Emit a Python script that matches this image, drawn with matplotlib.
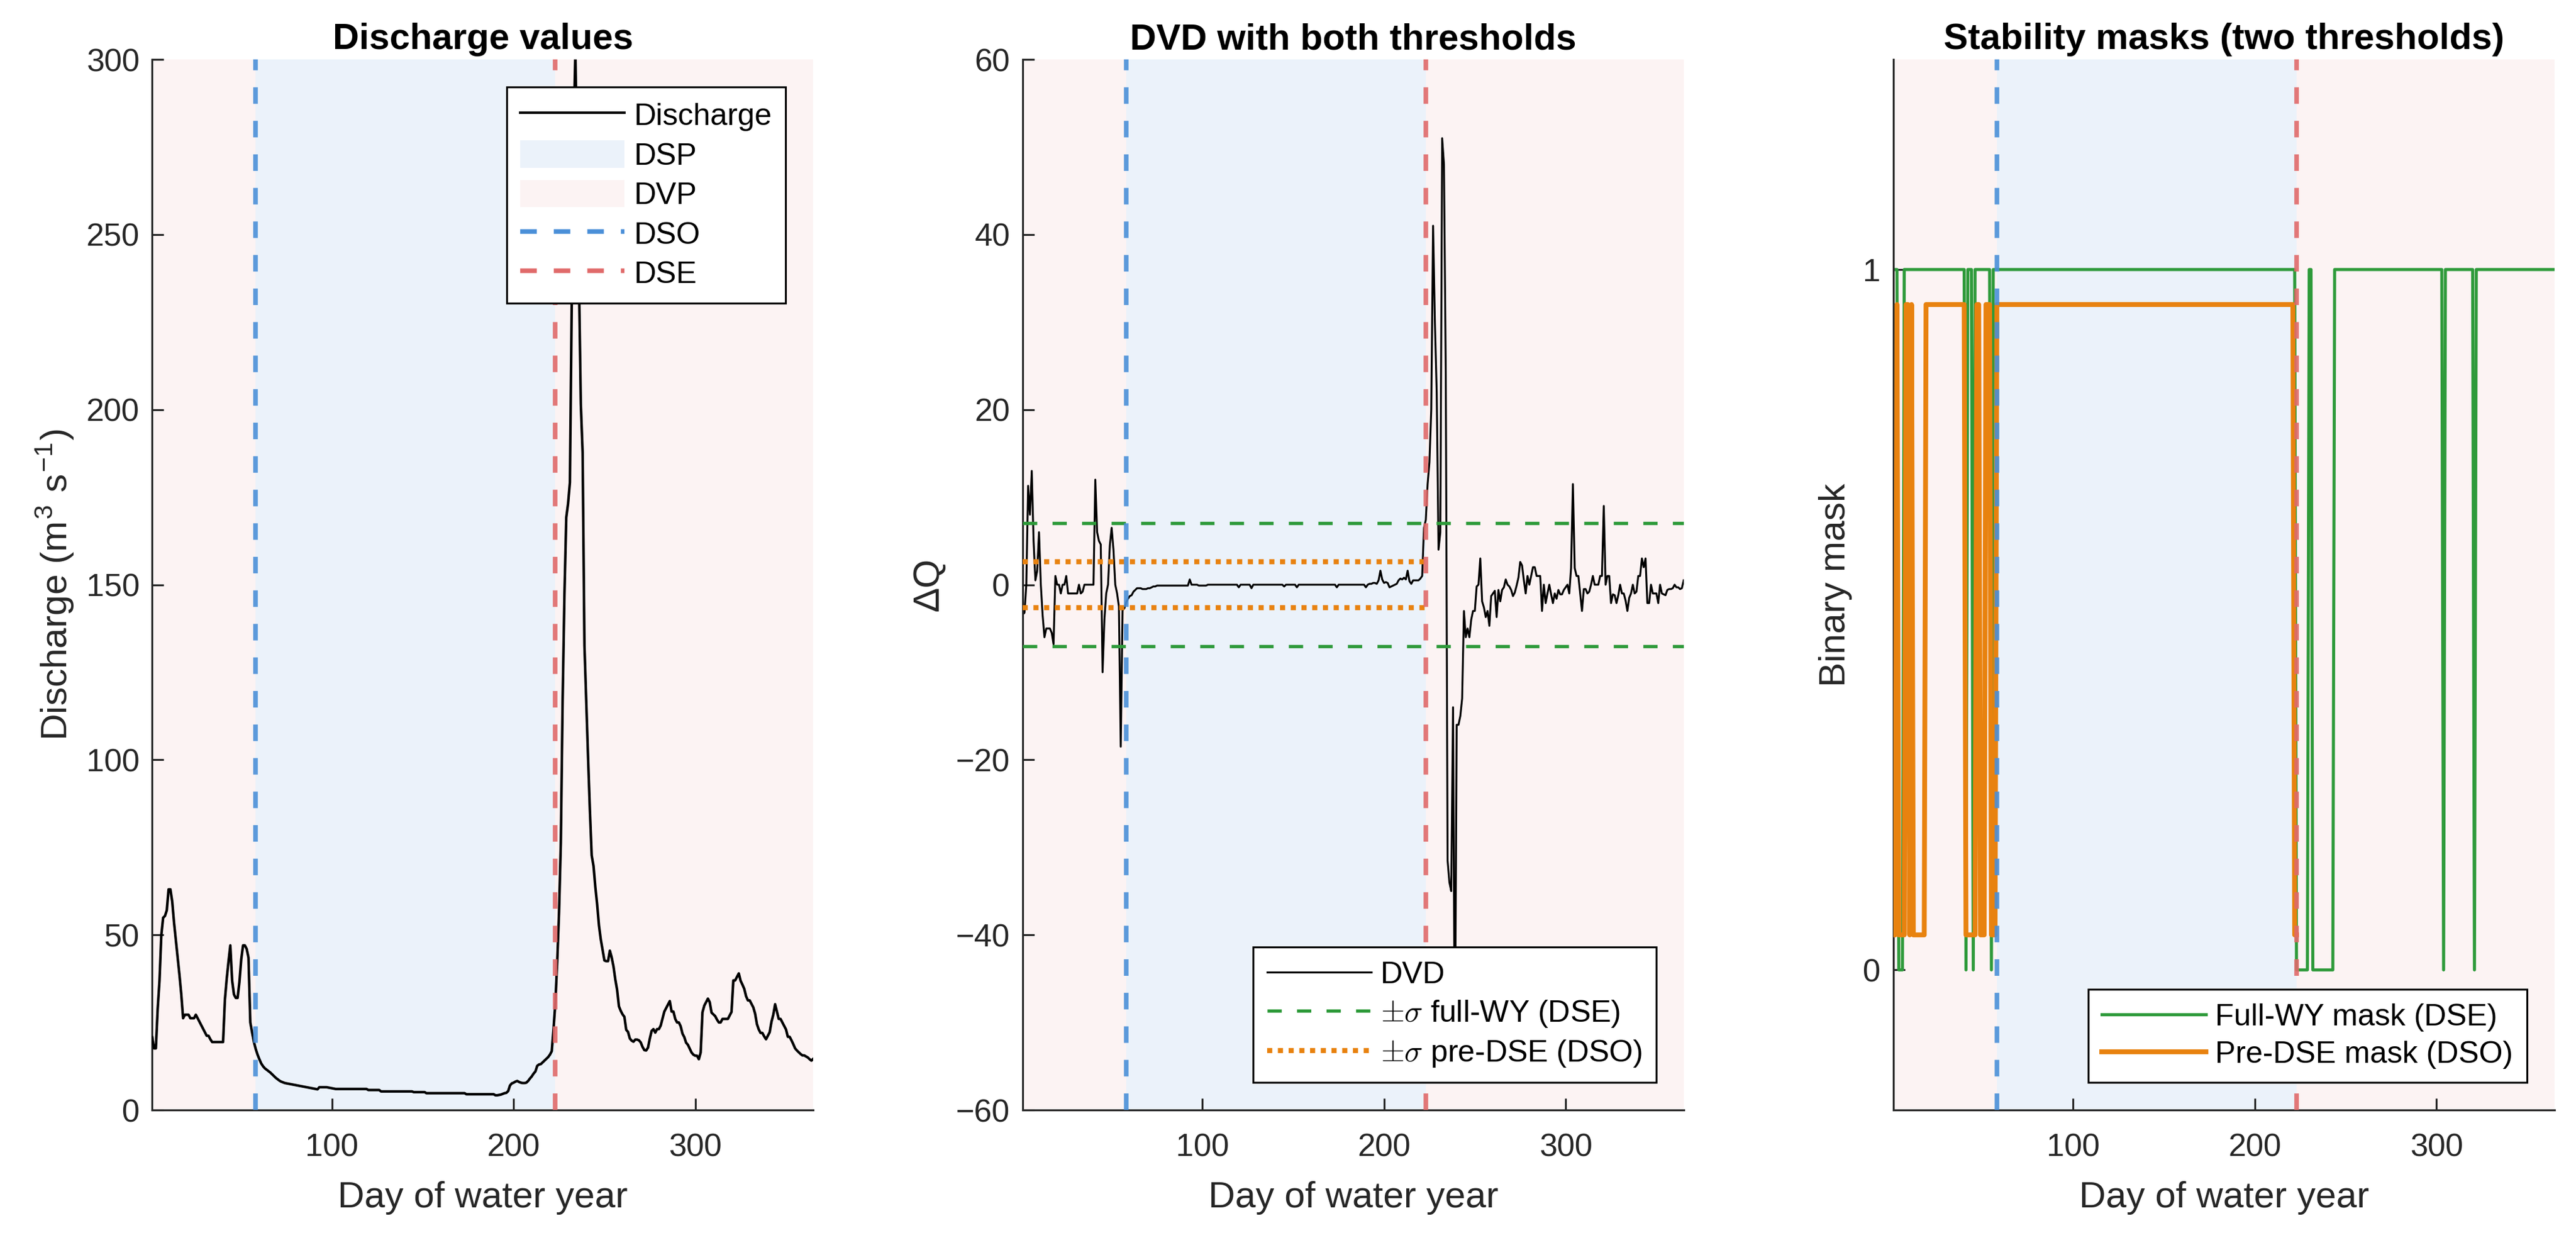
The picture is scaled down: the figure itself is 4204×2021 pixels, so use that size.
import numpy as np
import matplotlib.pyplot as plt
from matplotlib.patches import Patch
from matplotlib.lines import Line2D

plt.rcParams['font.family'] = ['Liberation Sans', 'DejaVu Sans']
plt.rcParams['mathtext.fontset'] = 'cm'

# --- data: daily discharge over the water year (m3 s-1), day 1..365 ---
Q_PREV = 24.2  # last day of the previous water year
discharge = np.array([
    20.8, 17.6, 17.6, 28.9, 36.9, 49.9, 54.9, 55.4, 57.0, 63.0,      # 1-10
    63.0, 59.5, 53.5, 48.5, 43.5, 38.5, 33.0, 26.2, 27.2, 27.2,      # 11-20
    27.2, 26.2, 26.2, 26.2, 27.2, 26.2, 25.2, 24.2, 23.2, 22.2,      # 21-30
    21.2, 21.2, 20.2, 19.4, 19.4, 19.4, 19.4, 19.4, 19.4, 19.4,      # 31-40
    31.4, 37.4, 42.4, 47.0, 37.0, 33.0, 32.0, 32.0, 36.5, 43.0,      # 41-50
    47.0, 47.0, 46.0, 43.5, 25.0, 22.1, 19.4, 17.4, 15.8, 14.5,      # 51-60
    13.3, 12.5, 11.9, 11.5, 11.1, 10.7, 10.2, 9.7, 9.2, 8.8,         # 61-70
    8.4, 8.1, 7.9, 7.7, 7.6, 7.5, 7.4, 7.3, 7.2, 7.1,                # 71-80
    7.0, 6.9, 6.8, 6.7, 6.6, 6.5, 6.4, 6.3, 6.2, 6.1,                # 81-90
    6.0, 5.9, 6.5, 6.5, 6.5, 6.5, 6.5, 6.4, 6.3, 6.2,                # 91-100
    6.1, 6.0, 6.0, 6.0, 6.0, 6.0, 6.0, 6.0, 6.0, 6.0,                # 101-110
    6.0, 6.0, 6.0, 6.0, 6.0, 6.0, 6.0, 6.0, 6.0, 5.7,                # 111-120
    5.7, 5.7, 5.7, 5.7, 5.7, 5.7, 5.3, 5.3, 5.3, 5.3,                # 121-130
    5.3, 5.3, 5.3, 5.3, 5.3, 5.3, 5.3, 5.3, 5.3, 5.3,                # 131-140
    5.3, 5.3, 5.3, 5.3, 5.1, 5.1, 5.1, 5.1, 5.1, 5.1,                # 141-150
    5.1, 4.8, 4.8, 4.8, 4.8, 4.8, 4.8, 4.8, 4.8, 4.8,                # 151-160
    4.8, 4.8, 4.8, 4.8, 4.8, 4.8, 4.8, 4.8, 4.8, 4.8,                # 161-170
    4.8, 4.8, 4.8, 4.5, 4.5, 4.5, 4.5, 4.5, 4.5, 4.5,                # 171-180
    4.5, 4.5, 4.5, 4.5, 4.5, 4.5, 4.5, 4.5, 4.5, 4.2,                # 181-190
    4.2, 4.3, 4.4, 4.6, 4.8, 4.9, 5.4, 7.0, 7.6, 7.8,                # 191-200
    8.1, 8.3, 8.0, 7.8, 7.7, 7.7, 7.8, 8.3, 9.0, 9.6,                # 201-210
    10.4, 11.0, 12.6, 13.0, 13.1, 13.6, 14.1, 14.6, 15.1, 15.8,      # 211-220
    16.8, 23.3, 30.7, 42.2, 56.2, 76.2, 117.2, 147.2, 169.2, 173.2,  # 221-230
    179.2, 230.2, 278.2, 302.2, 270.7, 236.7, 201.7, 187.7, 132.7, 116.7,  # 231-240
    100.7, 85.7, 72.7, 69.7, 63.7, 58.7, 52.7, 48.7, 45.7, 42.7,     # 241-250
    42.5, 42.5, 45.5, 43.6, 41.0, 37.3, 34.3, 29.6, 28.3, 27.3,      # 251-260
    26.6, 22.9, 22.3, 20.4, 19.8, 19.5, 20.1, 20.1, 19.9, 19.3,      # 261-270
    18.0, 17.1, 17.0, 17.8, 20.4, 22.6, 23.1, 22.1, 23.1, 23.1,      # 271-280
    24.1, 26.1, 28.1, 29.1, 30.1, 31.1, 28.1, 28.1, 26.0, 25.0,      # 281-290
    25.0, 23.9, 21.8, 20.8, 19.2, 18.6, 17.5, 16.4, 15.8, 15.5,      # 291-300
    15.5, 14.5, 16.4, 27.9, 29.8, 30.8, 31.8, 30.8, 27.8, 27.3,      # 301-310
    26.8, 25.8, 25.0, 25.0, 26.0, 26.0, 26.0, 26.0, 27.0, 28.0,      # 311-320
    37.0, 37.0, 38.0, 39.0, 36.9, 35.8, 34.6, 32.5, 31.3, 31.3,      # 321-330
    30.3, 29.3, 27.5, 24.5, 23.0, 22.0, 22.0, 21.0, 20.2, 21.2,      # 331-340
    22.2, 25.2, 27.2, 30.2, 28.1, 26.0, 26.0, 25.0, 24.0, 23.0,      # 341-350
    20.9, 20.9, 19.9, 18.8, 17.6, 17.0, 16.5, 16.0, 15.6, 15.6,      # 351-360
    15.3, 15.0, 14.5, 14.1, 14.6,                                    # 361-365
])

DSO = 58           # dry-season onset (day)
DSE = 223          # dry-season end (day)
SIGMA_FULL = 7.0   # std of DVD, full water year
SIGMA_PRE = 2.6    # std of DVD, before DSE

# --- derived series ---
days = np.arange(1, len(discharge) + 1)
dvd = np.diff(discharge, prepend=Q_PREV)
mask_full = (np.abs(dvd) < SIGMA_FULL).astype(float)
pre = days <= DSE
mask_pre = (np.abs(dvd[pre]) < SIGMA_PRE).astype(float)

# --- style ---
C_DSP = '#EBF2FA'
C_DVP = '#FCF3F3'
C_DSO = '#4A8FD8'
C_DSE = '#E06A6A'
C_GREEN = '#2E9A3A'
C_ORANGE = '#E8820F'
INK = '#262626'
VDASH = (0, (3.6, 3.7))
LABEL_FS = 14.5
TITLE_FS = 14.3

fig = plt.figure(figsize=(4204 / 300, 2021 / 300), dpi=300)
lefts = [0.0591, 0.3970, 0.7350]
axes = [fig.add_axes([l, 0.1034, 0.2566, 0.8486]) for l in lefts]


def style(ax):
    ax.axvspan(1, 365, color=C_DVP, lw=0, zorder=0)
    ax.axvspan(DSO, DSE, color=C_DSP, lw=0, zorder=0)
    ax.set_xlim(1, 365)
    ax.set_xticks([100, 200, 300])
    for s in ['top', 'right']:
        ax.spines[s].set_visible(False)
    for s in ['left', 'bottom']:
        ax.spines[s].set_color(INK)
        ax.spines[s].set_linewidth(0.75)
    ax.tick_params(direction='in', length=4.5, width=0.75, colors=INK,
                   labelsize=12.5)
    ax.tick_params(axis='x', pad=9)
    ax.tick_params(axis='y', pad=5)
    ax.set_xlabel('Day of water year', fontsize=LABEL_FS, color=INK, labelpad=7)


def vlines(ax):
    ax.axvline(DSO, color=C_DSO, ls=VDASH, lw=1.8, alpha=0.9, zorder=4)
    ax.axvline(DSE, color=C_DSE, ls=VDASH, lw=1.8, alpha=0.9, zorder=4)


leg_kw = dict(fontsize=12, handlelength=3.4, handletextpad=0.3,
              borderpad=0.45, borderaxespad=0.9, fancybox=False,
              framealpha=1, edgecolor='black')

# panel 1: discharge
ax = axes[0]
style(ax)
ax.plot(days, discharge, color='black', lw=1.0, zorder=3)
vlines(ax)
ax.set_ylim(0, 300)
ax.set_yticks(np.arange(0, 301, 50))
ax.set_ylabel(r'Discharge (m$^{\mathregular{3}}$ s$^{\mathregular{-1}}$)',
              fontsize=LABEL_FS, color=INK, labelpad=4)
ax.set_title('Discharge values', fontsize=TITLE_FS, fontweight='bold', pad=4)
handles = [
    Line2D([], [], color='black', lw=1.0),
    Patch(facecolor=C_DSP, edgecolor='none'),
    Patch(facecolor=C_DVP, edgecolor='none'),
    Line2D([], [], color=C_DSO, ls=VDASH, lw=1.8),
    Line2D([], [], color=C_DSE, ls=VDASH, lw=1.8),
]
leg = ax.legend(handles, ['Discharge', 'DSP', 'DVP', 'DSO', 'DSE'],
                loc='upper right', handleheight=1.0, labelspacing=0.3, **leg_kw)
leg.get_frame().set_linewidth(0.75)
leg.set_zorder(6)

# panel 2: DVD with thresholds
ax = axes[1]
style(ax)
l_dvd, = ax.plot(days, dvd, color='black', lw=0.75, zorder=2)
l_full, = ax.plot([1, 365], [SIGMA_FULL, SIGMA_FULL], color=C_GREEN,
                  ls=(0, (4.3, 4.6)), lw=1.3, zorder=3)
ax.plot([1, 365], [-SIGMA_FULL, -SIGMA_FULL], color=C_GREEN,
        ls=(0, (4.3, 4.6)), lw=1.3, zorder=3)
l_pre, = ax.plot([1, DSE], [SIGMA_PRE, SIGMA_PRE], color=C_ORANGE,
                 ls=(0, (1, 1.1)), lw=2.0, zorder=3)
ax.plot([1, DSE], [-SIGMA_PRE, -SIGMA_PRE], color=C_ORANGE,
        ls=(0, (1, 1.1)), lw=2.0, zorder=3)
vlines(ax)
ax.set_ylim(-60, 60)
ax.set_yticks(np.arange(-60, 61, 20))
ax.set_ylabel('ΔQ', fontsize=LABEL_FS, color=INK, labelpad=4)
ax.set_title('DVD with both thresholds', fontsize=TITLE_FS, fontweight='bold', pad=4)
leg = ax.legend([l_dvd, l_full, l_pre],
                ['DVD', r'$\pm\sigma$ full-WY (DSE)', r'$\pm\sigma$ pre-DSE (DSO)'],
                loc='lower right', labelspacing=0.3, **leg_kw)
leg.get_frame().set_linewidth(0.75)
leg.set_zorder(6)

# panel 3: binary masks
ax = axes[2]
style(ax)
l_mf, = ax.plot(days, mask_full, color=C_GREEN, lw=1.2, zorder=2)
l_mp, = ax.plot(days[pre], 0.05 + 0.9 * mask_pre, color=C_ORANGE, lw=1.9, zorder=3)
vlines(ax)
ax.set_ylim(-0.2, 1.3)
ax.set_yticks([0, 1])
ax.set_ylabel('Binary mask', fontsize=LABEL_FS, color=INK, labelpad=4)
ax.set_title('Stability masks (two thresholds)', fontsize=TITLE_FS,
             fontweight='bold', pad=4)
leg = ax.legend([l_mf, l_mp], ['Full-WY mask (DSE)', 'Pre-DSE mask (DSO)'],
                loc='lower right', labelspacing=0.3, **leg_kw)
leg.get_frame().set_linewidth(0.75)
leg.set_zorder(6)

fig.savefig('out.png', dpi=300)
